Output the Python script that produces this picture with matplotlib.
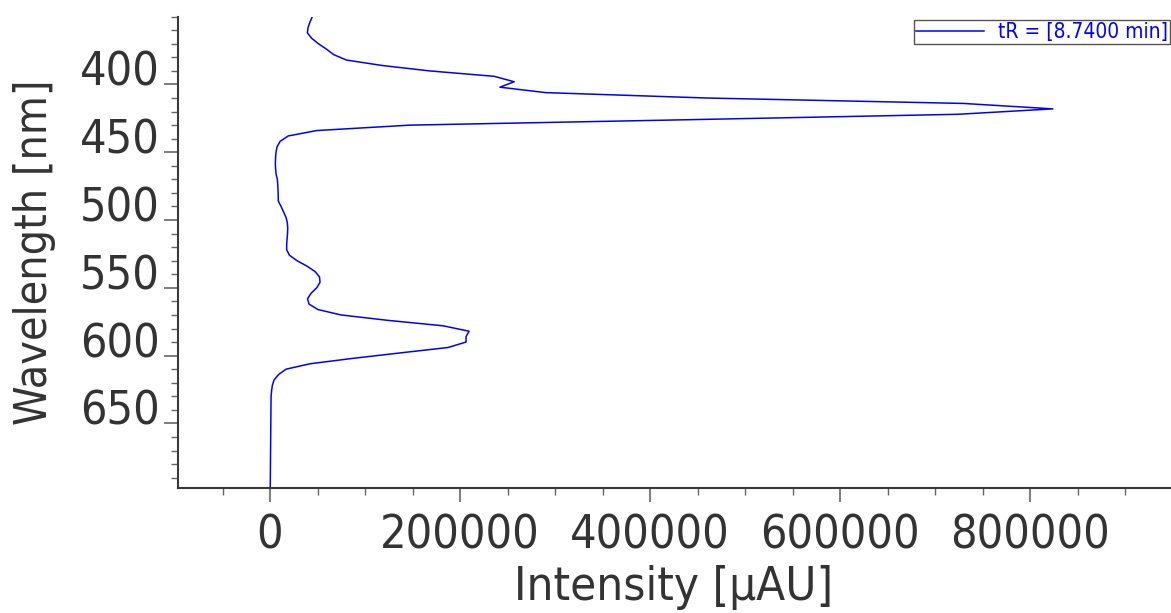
import matplotlib
matplotlib.use("Agg")
import matplotlib.pyplot as plt
from matplotlib.ticker import MultipleLocator
from matplotlib.transforms import ScaledTranslation

plt.rcParams['font.family'] = ['DejaVu Sans']
plt.rcParams['font.stretch'] = 'condensed'

# DAD spectrum at tR = 8.74 min, 4 nm steps
wavelength = list(range(350, 699, 4))
intensity = [
    44500, 42000, 40000, 39300, 43900, 51000, 59500, 67000, 80500, 118000,
    168000, 236000, 257000, 242000, 290000, 460000, 730000, 824000, 724000, 440000,
    147000, 49000, 19000, 10500, 7400, 6300, 5800, 5600, 5800, 6300,
    7700, 8100, 8400, 8600, 8700, 11600, 14200, 16800, 18200, 18600,
    18400, 17900, 17500, 17500, 20500, 28400, 38900, 47400, 52100, 52600,
    49100, 43200, 39500, 41000, 50500, 74700, 124200, 182100, 209500, 206300,
    206300, 187400, 137000, 87400, 42100, 16800, 8900, 4200, 2400, 1600,
    1100, 1000, 950, 900, 850, 800, 750, 700, 650, 600,
    550, 500, 450, 400, 350, 300, 250, 200,
]
series_label = 'tR = [8.7400 min]'
x_major = [0, 200000, 400000, 600000, 800000]
y_major = [400, 450, 500, 550, 600, 650]

fig = plt.figure(figsize=(11.71, 6.13), dpi=100)
ax = fig.add_axes([0.1516, 0.2031, 0.8476, 0.7697])

ax.plot(intensity, wavelength, color='#0000ff', linewidth=1.1, label=series_label)

ax.set_xlim(-97400, 947400)
ax.set_ylim(698, 350)
ax.set_xticks(x_major)
ax.set_xticklabels([str(v) for v in x_major])
ax.set_yticks(y_major)
ax.xaxis.set_minor_locator(MultipleLocator(50000))
ax.yaxis.set_minor_locator(MultipleLocator(10))

for s in ['top', 'right']:
    ax.spines[s].set_visible(False)
for s in ['left', 'bottom']:
    ax.spines[s].set_color('#3a3a3a')
    ax.spines[s].set_linewidth(1.5)

txt = '#333333'
ax.tick_params(axis='both', which='major', length=10, width=1.2, color='#666666',
               labelsize=33.5, labelcolor=txt)
ax.tick_params(axis='both', which='minor', length=5, width=1.0, color='#666666')
ax.tick_params(axis='x', which='major', pad=8.0)
ax.tick_params(axis='y', which='major', pad=2.5)

# y tick labels sit a little above their ticks
shift = ScaledTranslation(0, 0.16, fig.dpi_scale_trans)
for lab in ax.get_yticklabels():
    lab.set_transform(lab.get_transform() + shift)

ax.set_xlabel('Intensity [µAU]', fontsize=34, color=txt, va='center')
ax.xaxis.set_label_coords(0.5, -0.209)
ax.set_ylabel('Wavelength [nm]', fontsize=32, color=txt, va='center')
ax.yaxis.set_label_coords(-0.1446, 0.5)

leg = ax.legend(loc='upper right', bbox_to_anchor=(1.0, 0.993), borderaxespad=0,
                fontsize=15, labelcolor='#0000ff', fancybox=False, framealpha=1,
                edgecolor='#555555', borderpad=0.1, handlelength=3.27,
                handletextpad=0.67)
leg.get_frame().set_linewidth(1.0)

fig.savefig('out.png', dpi=100)
